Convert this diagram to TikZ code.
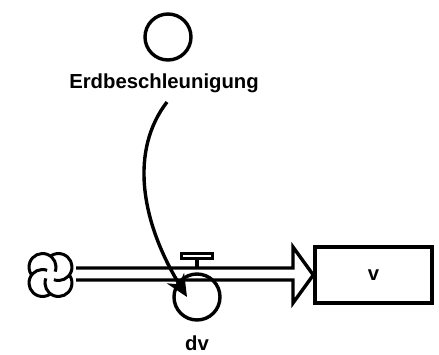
\documentclass[tikz,border=0pt]{standalone}
\usepackage{fontspec}
\setmainfont{Liberation Sans}
\usetikzlibrary{arrows.meta,calc}
\begin{document}
\begin{tikzpicture}[x=1pt,y=-1pt,line width=3.4pt,
  lbl/.style={font=\fontsize{20.3}{24}\selectfont\bfseries,inner sep=0pt},
  aux/.style={draw,circle,minimum size=46pt,inner sep=0pt},
  stockbox/.style={draw,minimum width=117pt,minimum height=56pt,inner sep=0pt},
  thin3/.style={line width=3pt}]
\useasboundingbox (0,0) rectangle (439,354);
\node[aux] (erd) at (168,37) {};
\node[lbl] (erdl) at (164,83) {Erdbeschleunigung};
\node[stockbox] (stock) at (373.5,275) {};
\node[lbl] (v) at (stock.center) {v};
\node[aux] (valve) at (197,297) {};
\node[lbl] (dv) at (197,343) {dv};
\coordinate (cloud) at (50.5,275);
\coordinate (src) at (167,102);
\coordinate (tip) at (187,297);
% cloud
\begin{scope}[shift={(cloud)},yscale=-1]
\foreach \a in {45,135,225,315}
  \draw[thin3] (\a:11.3) ++(\a-155:13.5) arc[start angle=\a-155,end angle=\a+80,radius=13.5];
\end{scope}
% pipe with hollow arrow head
\draw[line join=miter] (76,268) -- (293,268) -- (293,247) -- (stock.west) -- (293,303) -- (293,280) -- (76,280);
% valve
\draw[thin3] (181,253) rectangle (212,258);
\draw (197,258) -- (197,268);
% link
\draw[-{Stealth[length=22pt,width=20pt]}] (src) .. controls (130,150) and (140,220) .. (tip);
\end{tikzpicture}
\end{document}
